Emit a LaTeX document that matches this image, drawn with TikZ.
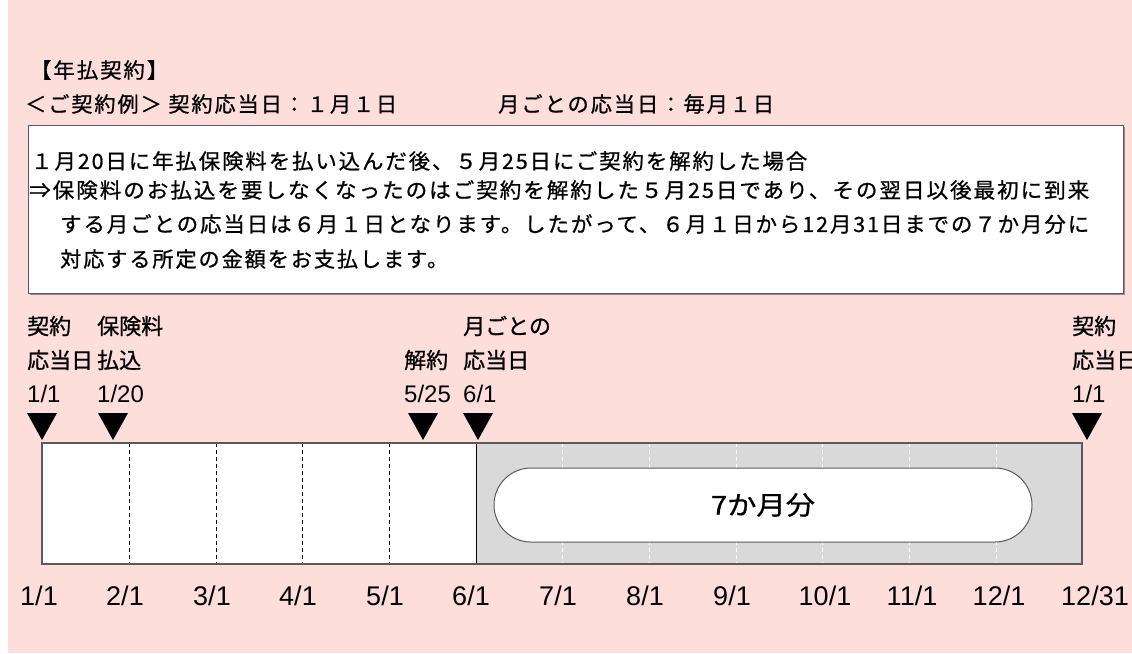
\documentclass[tikz,border=0pt]{standalone}
\usepackage{graphicx}
\usepackage{fontspec}
\setmainfont{Liberation Sans}
\newfontfamily\jpls[LetterSpace=9,FakeBold=0.8]{Noto Sans CJK JP}
\newfontfamily\jpn[FakeBold=0.8]{Noto Sans CJK JP}
\newcommand{\fitw}[2]{\resizebox{#1}{\height}{#2}}
\definecolor{bgpink}{RGB}{253,222,218}
\definecolor{bargray}{RGB}{217,217,217}
\definecolor{edgegray}{RGB}{90,90,90}
\definecolor{shadowgray}{RGB}{140,140,140}
\tikzset{
  jtxt/.style={inner sep=0pt, anchor=west, font=\jpls\fontsize{21}{25}\selectfont},
  lbl/.style={inner sep=0pt, anchor=west, font=\jpn\fontsize{22}{26}\selectfont},
  num/.style={inner sep=0pt, anchor=west, font=\fontsize{24}{28}\selectfont},
  axislbl/.style={inner sep=0pt, anchor=center, font=\fontsize{27}{30}\selectfont},
  marker/.style={fill=black, draw=none},
  monthdash/.style={line width=1pt, dash pattern=on 4pt off 3pt},
}
\begin{document}
\begin{tikzpicture}[x=1pt,y=-1pt]
\useasboundingbox (0,0) rectangle (1132,653);
\fill[white] (0,0) rectangle (1132,653);
\fill[bgpink] (8,0) rectangle (1132,653);

% header
\node[jtxt] (title) at (30,70) {\fitw{138pt}{【年払契約】}};
\node[jtxt] (ex1) at (25,104) {\fitw{372pt}{＜ご契約例＞ 契約応当日：１月１日}};
\node[jtxt] (ex2) at (498,104) {\fitw{276pt}{月ごとの応当日：毎月１日}};

% explanation box
\fill[shadowgray] (29.5,126.5) rectangle (1124.5,294.5);
\draw[draw=edgegray, fill=white, line width=1pt] (28,125) rectangle (1123,293);
\node[jtxt] (l1) at (31,161) {\fitw{776pt}{１月20日に年払保険料を払い込んだ後、５月25日にご契約を解約した場合}};
\node[jtxt] (l2) at (29,190) {\fitw{1060pt}{⇒保険料のお払込を要しなくなったのはご契約を解約した５月25日であり、その翌日以後最初に到来}};
\node[jtxt] (l3) at (60,224) {\fitw{1029pt}{する月ごとの応当日は６月１日となります。したがって、６月１日から12月31日までの７か月分に}};
\node[jtxt] (l4) at (60,259) {\fitw{388pt}{対応する所定の金額をお支払します。}};

% labels above the timeline
\node[lbl] (a1) at (27,326) {契約};
\node[lbl] (a2) at (27,360) {応当日};
\node[num] (a3) at (27,394) {1/1};
\node[lbl] (b1) at (97,326) {保険料};
\node[lbl] (b2) at (97,360) {払込};
\node[num] (b3) at (97,394) {1/20};
\node[lbl] (c2) at (404,360) {解約};
\node[num] (c3) at (404,394) {5/25};
\node[lbl] (d1) at (463,326) {月ごとの};
\node[lbl] (d2) at (463,360) {応当日};
\node[num] (d3) at (463,394) {6/1};
\node[lbl] (e1) at (1072,326) {契約};
\node[lbl] (e2) at (1072,360) {応当日};
\node[num] (e3) at (1072,394) {1/1};

% markers
\foreach \mx in {42,113,423,478,1087}{
  \fill[marker] (\mx-15,413) -- (\mx+15,413) -- (\mx,440) -- cycle;
}

% bar
\fill[white] (42,443) rectangle (476,564);
\fill[bargray] (476,443) rectangle (1082,564);
\foreach \mx in {129,216,302,389}{
  \draw[monthdash, black] (\mx,443) -- (\mx,564);
}
\foreach \mx in {562,649,736,822,909,996}{
  \draw[monthdash, white] (\mx,443) -- (\mx,564);
}
\draw[black, line width=1pt] (476,443) -- (476,564);
\draw[edgegray, line width=1.5pt] (42,443) rectangle (1082,564);
\node[draw=edgegray, fill=white, line width=1pt, rounded corners=37pt,
      minimum width=538pt, minimum height=74pt, inner sep=0pt,
      font=\jpn\fontsize{26}{30}\selectfont] (pill) at (763,505) {\fitw{104pt}{7か月分}};

% axis labels
\node[axislbl] (m1) at (39,596) {1/1};
\node[axislbl] (m2) at (125,596) {2/1};
\node[axislbl] (m3) at (212,596) {3/1};
\node[axislbl] (m4) at (298,596) {4/1};
\node[axislbl] (m5) at (385,596) {5/1};
\node[axislbl] (m6) at (471,596) {6/1};
\node[axislbl] (m7) at (558,596) {7/1};
\node[axislbl] (m8) at (645,596) {8/1};
\node[axislbl] (m9) at (732,596) {9/1};
\node[axislbl] (m10) at (825,596) {10/1};
\node[axislbl] (m11) at (912,596) {11/1};
\node[axislbl] (m12) at (999,596) {12/1};
\node[axislbl] (m13) at (1095,596) {12/31};
\end{tikzpicture}
\end{document}
